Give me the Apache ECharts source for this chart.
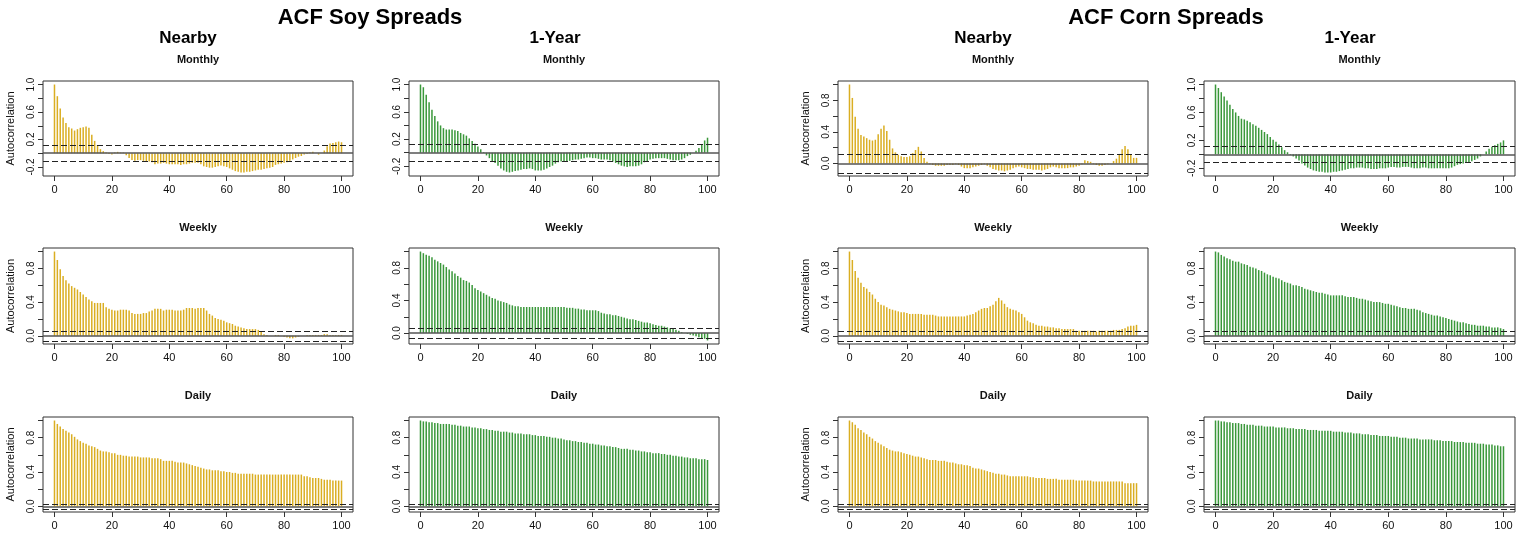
<!DOCTYPE html>
<html><head><meta charset="utf-8">
<script src="https://cdn.jsdelivr.net/npm/echarts@6/dist/echarts.min.js"></script>
<style>html,body{margin:0;padding:0;background:#fff}#c{width:1528px;height:535px}</style>
</head><body><div id="c"></div>
<script>
// ---------- data ----------
const xTickLabels = [0, 20, 40, 60, 80, 100];
const yTicksWide = [-0.2, 0, 0.2, 0.4, 0.6, 0.8, 1.0];
const yLabelsWide = [-0.2, 0.2, 0.6, 1.0];
const yTicksPos = [0, 0.2, 0.4, 0.6, 0.8, 1.0];
const yLabelsPos = [0, 0.4, 0.8];

const confMonthly = 0.115;
const confWeekly = 0.055;
const confDaily = 0.025;

const soyNearbyMonthly = [1.0,0.83,0.65,0.52,0.44,0.38,0.36,0.33,0.35,0.37,
 0.38,0.39,0.37,0.27,0.18,0.12,0.06,0.03,0.01,-0.01,
 -0.02,0.01,0.02,0.01,0.01,-0.03,-0.07,-0.10,-0.11,-0.10,
 -0.10,-0.11,-0.12,-0.12,-0.13,-0.16,-0.15,-0.15,-0.14,-0.15,
 -0.16,-0.16,-0.16,-0.16,-0.17,-0.16,-0.16,-0.15,-0.14,-0.14,
 -0.14,-0.16,-0.19,-0.20,-0.21,-0.21,-0.20,-0.19,-0.18,-0.19,
 -0.20,-0.22,-0.24,-0.26,-0.27,-0.28,-0.28,-0.27,-0.27,-0.26,
 -0.25,-0.24,-0.24,-0.23,-0.22,-0.21,-0.20,-0.17,-0.16,-0.15,
 -0.14,-0.13,-0.11,-0.09,-0.07,-0.05,-0.04,-0.02,-0.01,0.01,
 0.02,0.00,-0.02,0.00,0.04,0.10,0.14,0.15,0.16,0.17,
 0.16];
const soy1YMonthly = [1.0,0.96,0.85,0.74,0.63,0.54,0.46,0.40,0.36,0.34,
 0.34,0.34,0.33,0.32,0.29,0.27,0.25,0.21,0.17,0.13,
 0.09,0.05,0.01,-0.04,-0.08,-0.12,-0.15,-0.19,-0.23,-0.26,
 -0.28,-0.29,-0.28,-0.27,-0.26,-0.25,-0.24,-0.24,-0.23,-0.24,
 -0.26,-0.26,-0.26,-0.25,-0.23,-0.21,-0.19,-0.16,-0.14,-0.13,
 -0.12,-0.12,-0.12,-0.11,-0.10,-0.10,-0.09,-0.08,-0.07,-0.07,
 -0.08,-0.08,-0.09,-0.10,-0.10,-0.10,-0.11,-0.13,-0.15,-0.17,
 -0.19,-0.20,-0.21,-0.20,-0.20,-0.20,-0.19,-0.17,-0.14,-0.12,
 -0.10,-0.09,-0.08,-0.08,-0.08,-0.08,-0.09,-0.10,-0.11,-0.11,
 -0.11,-0.10,-0.08,-0.05,-0.03,0.00,0.03,0.07,0.12,0.18,
 0.22];
const cornNearbyMonthly = [1.0,0.83,0.59,0.44,0.36,0.34,0.32,0.30,0.29,0.30,
 0.37,0.44,0.48,0.41,0.30,0.19,0.14,0.11,0.09,0.08,
 0.08,0.09,0.13,0.17,0.21,0.15,0.07,0.02,-0.01,-0.02,
 -0.03,-0.03,-0.03,-0.03,-0.02,-0.02,-0.02,-0.01,-0.02,-0.04,
 -0.06,-0.06,-0.06,-0.05,-0.04,-0.03,-0.02,-0.01,-0.03,-0.05,
 -0.07,-0.08,-0.09,-0.09,-0.10,-0.09,-0.08,-0.06,-0.05,-0.04,
 -0.05,-0.06,-0.07,-0.07,-0.08,-0.08,-0.08,-0.09,-0.08,-0.07,
 -0.05,-0.04,-0.05,-0.06,-0.06,-0.06,-0.06,-0.05,-0.05,-0.04,
 -0.03,-0.01,0.04,0.03,0.02,-0.01,-0.02,-0.03,-0.03,-0.02,
 -0.01,0.00,0.03,0.06,0.12,0.18,0.22,0.18,0.12,0.07,
 0.07];
const corn1YMonthly = [1.0,0.95,0.89,0.83,0.77,0.71,0.65,0.60,0.55,0.51,
 0.50,0.48,0.46,0.43,0.41,0.38,0.35,0.32,0.29,0.25,
 0.21,0.18,0.14,0.10,0.06,0.03,-0.01,-0.03,-0.06,-0.09,
 -0.13,-0.16,-0.19,-0.21,-0.23,-0.24,-0.25,-0.25,-0.26,-0.26,
 -0.26,-0.25,-0.25,-0.24,-0.23,-0.22,-0.21,-0.20,-0.20,-0.19,
 -0.19,-0.19,-0.20,-0.20,-0.21,-0.21,-0.21,-0.20,-0.20,-0.20,
 -0.19,-0.18,-0.18,-0.19,-0.19,-0.18,-0.18,-0.18,-0.19,-0.20,
 -0.20,-0.20,-0.19,-0.19,-0.20,-0.20,-0.20,-0.20,-0.20,-0.20,
 -0.20,-0.20,-0.19,-0.17,-0.15,-0.14,-0.13,-0.12,-0.11,-0.10,
 -0.08,-0.06,-0.03,0.00,0.04,0.08,0.11,0.13,0.15,0.17,
 0.20];
const soyNearbyWeekly = [1.0,0.90,0.79,0.71,0.66,0.62,0.59,0.57,0.55,0.52,
 0.49,0.46,0.43,0.41,0.39,0.39,0.39,0.39,0.34,0.32,
 0.31,0.30,0.30,0.31,0.31,0.31,0.30,0.27,0.26,0.26,
 0.26,0.27,0.27,0.29,0.30,0.32,0.32,0.32,0.30,0.31,
 0.31,0.31,0.30,0.30,0.30,0.31,0.33,0.33,0.33,0.32,
 0.33,0.33,0.33,0.30,0.26,0.24,0.21,0.20,0.19,0.18,
 0.16,0.15,0.14,0.12,0.11,0.10,0.09,0.08,0.08,0.08,
 0.08,0.07,0.05,0.02,0.01,0.00,0.00,0.01,0.01,0.00,
 -0.01,-0.02,-0.03,-0.03,-0.02,-0.01,0.00,0.00,0.01,0.01,
 0.01,0.01,0.01,0.01,0.02,0.02,0.01,0.01,0.01,0.01,
 0.01];
const soy1YWeekly = [1.0,0.98,0.96,0.95,0.93,0.90,0.88,0.86,0.84,0.81,
 0.78,0.76,0.73,0.70,0.68,0.65,0.64,0.62,0.59,0.55,
 0.53,0.51,0.49,0.47,0.45,0.43,0.42,0.40,0.39,0.38,
 0.37,0.35,0.34,0.33,0.33,0.32,0.32,0.32,0.32,0.32,
 0.32,0.32,0.32,0.32,0.32,0.32,0.32,0.32,0.32,0.32,
 0.32,0.31,0.31,0.31,0.30,0.30,0.29,0.29,0.28,0.28,
 0.28,0.28,0.27,0.25,0.24,0.23,0.23,0.22,0.22,0.21,
 0.20,0.19,0.18,0.17,0.17,0.16,0.15,0.14,0.13,0.13,
 0.12,0.11,0.10,0.09,0.09,0.08,0.07,0.06,0.05,0.04,
 0.03,0.01,0.00,-0.01,-0.02,-0.03,-0.04,-0.05,-0.06,-0.07,
 -0.09];
const cornNearbyWeekly = [1.0,0.90,0.77,0.69,0.63,0.58,0.56,0.52,0.49,0.44,
 0.40,0.37,0.36,0.34,0.32,0.31,0.30,0.29,0.28,0.28,
 0.27,0.26,0.26,0.26,0.26,0.26,0.25,0.25,0.25,0.25,
 0.24,0.23,0.23,0.23,0.23,0.23,0.23,0.23,0.23,0.23,
 0.23,0.24,0.25,0.26,0.28,0.30,0.32,0.33,0.33,0.35,
 0.37,0.41,0.45,0.42,0.38,0.34,0.32,0.31,0.30,0.28,
 0.26,0.22,0.18,0.16,0.15,0.13,0.12,0.12,0.11,0.11,
 0.10,0.10,0.09,0.09,0.08,0.08,0.08,0.08,0.08,0.06,
 0.06,0.06,0.06,0.06,0.06,0.06,0.05,0.06,0.06,0.06,
 0.06,0.06,0.07,0.07,0.07,0.08,0.09,0.11,0.12,0.12,
 0.13];
const corn1YWeekly = [1.0,0.99,0.96,0.94,0.92,0.91,0.89,0.88,0.88,0.86,
 0.85,0.84,0.82,0.81,0.80,0.78,0.77,0.75,0.73,0.72,
 0.70,0.69,0.68,0.66,0.64,0.63,0.62,0.60,0.60,0.59,
 0.58,0.56,0.55,0.54,0.53,0.52,0.51,0.51,0.50,0.49,
 0.48,0.48,0.48,0.48,0.48,0.47,0.46,0.46,0.46,0.45,
 0.44,0.44,0.43,0.42,0.41,0.40,0.40,0.40,0.39,0.38,
 0.38,0.37,0.36,0.35,0.34,0.33,0.33,0.32,0.32,0.32,
 0.31,0.30,0.28,0.27,0.26,0.25,0.24,0.24,0.23,0.22,
 0.21,0.20,0.19,0.18,0.17,0.16,0.16,0.15,0.14,0.13,
 0.13,0.12,0.12,0.12,0.11,0.11,0.10,0.10,0.10,0.09,
 0.08];
const soyNearbyDaily = [1.0,0.96,0.93,0.90,0.88,0.86,0.84,0.81,0.78,0.76,
 0.74,0.73,0.71,0.70,0.69,0.67,0.65,0.64,0.64,0.63,
 0.62,0.62,0.60,0.60,0.59,0.59,0.58,0.58,0.58,0.58,
 0.57,0.57,0.57,0.57,0.56,0.56,0.56,0.55,0.53,0.53,
 0.53,0.53,0.52,0.51,0.51,0.51,0.50,0.49,0.48,0.47,
 0.46,0.45,0.44,0.43,0.43,0.42,0.42,0.42,0.41,0.41,
 0.40,0.40,0.39,0.39,0.38,0.38,0.38,0.38,0.38,0.38,
 0.37,0.37,0.37,0.37,0.37,0.37,0.37,0.37,0.37,0.37,
 0.37,0.37,0.37,0.37,0.37,0.37,0.37,0.35,0.35,0.34,
 0.33,0.33,0.33,0.32,0.31,0.31,0.31,0.30,0.30,0.30,
 0.30];
const soy1YDaily = [1.0,0.99,0.99,0.98,0.98,0.97,0.97,0.96,0.96,0.96,
 0.96,0.95,0.95,0.94,0.94,0.93,0.93,0.93,0.92,0.92,
 0.91,0.91,0.90,0.90,0.89,0.89,0.88,0.88,0.87,0.87,
 0.87,0.86,0.86,0.85,0.85,0.85,0.84,0.84,0.84,0.83,
 0.83,0.82,0.82,0.82,0.81,0.81,0.80,0.80,0.79,0.79,
 0.78,0.77,0.77,0.76,0.76,0.75,0.75,0.74,0.74,0.73,
 0.73,0.72,0.72,0.71,0.71,0.70,0.70,0.69,0.69,0.68,
 0.67,0.67,0.67,0.66,0.66,0.65,0.65,0.64,0.64,0.63,
 0.63,0.62,0.62,0.62,0.61,0.61,0.60,0.60,0.59,0.59,
 0.58,0.58,0.57,0.57,0.56,0.56,0.56,0.55,0.55,0.55,
 0.54];
const cornNearbyDaily = [1.0,0.98,0.95,0.91,0.89,0.86,0.84,0.81,0.79,0.76,
 0.74,0.72,0.70,0.68,0.66,0.65,0.64,0.64,0.63,0.62,
 0.61,0.60,0.59,0.58,0.58,0.57,0.56,0.55,0.54,0.54,
 0.54,0.53,0.53,0.53,0.52,0.51,0.51,0.50,0.49,0.49,
 0.48,0.48,0.47,0.45,0.44,0.44,0.43,0.42,0.41,0.40,
 0.39,0.38,0.38,0.37,0.37,0.36,0.35,0.35,0.35,0.35,
 0.35,0.35,0.35,0.34,0.34,0.33,0.33,0.33,0.33,0.32,
 0.32,0.32,0.32,0.31,0.31,0.31,0.31,0.31,0.31,0.30,
 0.30,0.30,0.30,0.30,0.30,0.29,0.29,0.29,0.29,0.29,
 0.29,0.29,0.29,0.29,0.29,0.29,0.27,0.27,0.27,0.27,
 0.27];
const corn1YDaily = [1.0,1.0,0.99,0.99,0.98,0.98,0.97,0.97,0.97,0.96,
 0.96,0.95,0.95,0.95,0.94,0.94,0.94,0.93,0.93,0.93,
 0.93,0.92,0.92,0.92,0.92,0.91,0.91,0.91,0.90,0.90,
 0.90,0.90,0.89,0.89,0.89,0.89,0.88,0.88,0.88,0.88,
 0.88,0.87,0.87,0.87,0.87,0.86,0.86,0.86,0.85,0.85,
 0.85,0.84,0.84,0.84,0.83,0.83,0.83,0.82,0.82,0.82,
 0.82,0.81,0.81,0.81,0.80,0.80,0.80,0.79,0.79,0.79,
 0.79,0.78,0.78,0.78,0.78,0.78,0.77,0.77,0.77,0.76,
 0.76,0.76,0.76,0.75,0.75,0.75,0.75,0.74,0.74,0.74,
 0.74,0.73,0.73,0.73,0.72,0.72,0.72,0.71,0.71,0.70,
 0.70];

// ---------- layout ----------
const FONT = "'Liberation Sans', Arial, sans-serif";
const GOLD = '#DAAE22';
const GREEN = '#3A983A';
const colLeft = [43, 409, 838, 1204];
const colWidth = [310, 310, 310, 311];
const rowTop = [81, 248, 417];
const rowHeight = [95, 96, 95];
const rowTitleY = [60, 228, 396];
const rowNames = ['Monthly', 'Weekly', 'Daily'];

const panels = [
  {data: soyNearbyMonthly, row: 0, col: 0, color: GOLD, clim: confMonthly, wide: true},
  {data: soy1YMonthly, row: 0, col: 1, color: GREEN, clim: confMonthly, wide: true},
  {data: cornNearbyMonthly, row: 0, col: 2, color: GOLD, clim: confMonthly, wide: false},
  {data: corn1YMonthly, row: 0, col: 3, color: GREEN, clim: confMonthly, wide: true},
  {data: soyNearbyWeekly, row: 1, col: 0, color: GOLD, clim: confWeekly, wide: false},
  {data: soy1YWeekly, row: 1, col: 1, color: GREEN, clim: confWeekly, wide: false},
  {data: cornNearbyWeekly, row: 1, col: 2, color: GOLD, clim: confWeekly, wide: false},
  {data: corn1YWeekly, row: 1, col: 3, color: GREEN, clim: confWeekly, wide: false},
  {data: soyNearbyDaily, row: 2, col: 0, color: GOLD, clim: confDaily, wide: false},
  {data: soy1YDaily, row: 2, col: 1, color: GREEN, clim: confDaily, wide: false},
  {data: cornNearbyDaily, row: 2, col: 2, color: GOLD, clim: confDaily, wide: false},
  {data: corn1YDaily, row: 2, col: 3, color: GREEN, clim: confDaily, wide: false}
];

const grids = [], xAxes = [], yAxes = [], series = [];
const titles = [
  {text: 'ACF Soy Spreads', left: 370, top: 18, fs: 22},
  {text: 'ACF Corn Spreads', left: 1166, top: 18, fs: 22},
  {text: 'Nearby', left: 188, top: 38, fs: 17},
  {text: '1-Year', left: 555, top: 38, fs: 17},
  {text: 'Nearby', left: 983, top: 38, fs: 17},
  {text: '1-Year', left: 1350, top: 38, fs: 17}
].map(t => ({text: t.text, left: t.left, top: t.top, padding: 0,
  textAlign: 'center', textVerticalAlign: 'middle',
  textStyle: {fontSize: t.fs, fontWeight: 'bold', color: '#000', fontFamily: FONT}}));

panels.forEach((p, i) => {
  const left = colLeft[p.col], top = rowTop[p.row];
  const w = colWidth[p.col], h = rowHeight[p.row];
  grids.push({left: left, top: top, width: w, height: h, show: true,
    borderColor: '#333', borderWidth: 1, backgroundColor: 'transparent', containLabel: false});
  titles.push({text: rowNames[p.row], left: left + w / 2, top: rowTitleY[p.row], padding: 0,
    textAlign: 'center', textVerticalAlign: 'middle',
    textStyle: {fontSize: 11, fontWeight: 'bold', color: '#111', fontFamily: FONT}});
  const m = Math.min(Math.min.apply(null, p.data), -p.clim);
  const span = 1 - m;
  const yMin = m - 0.04 * span, yMax = 1 + 0.04 * span;
  xAxes.push({type: 'value', gridIndex: i, min: -4, max: 104, position: 'bottom',
    splitLine: {show: false}, axisLine: {show: false, onZero: false},
    axisTick: {show: true, customValues: xTickLabels, length: 5, lineStyle: {color: '#333'}},
    axisLabel: {customValues: xTickLabels, fontSize: 11, color: '#111', margin: 8, fontFamily: FONT}});
  const isNearby = (p.col === 0 || p.col === 2);
  yAxes.push({type: 'value', gridIndex: i, min: yMin, max: yMax, position: 'left',
    splitLine: {show: false}, axisLine: {show: false, onZero: false},
    axisTick: {show: true, customValues: p.wide ? yTicksWide : yTicksPos, length: 5, lineStyle: {color: '#333'}},
    axisLabel: {customValues: p.wide ? yLabelsWide : yLabelsPos, rotate: 90, fontSize: 10,
      color: '#111', margin: 7, fontFamily: FONT, formatter: v => Number(v).toFixed(1)},
    name: isNearby ? 'Autocorrelation' : '', nameLocation: 'middle', nameGap: 27,
    nameTextStyle: {fontSize: 11, color: '#111', fontFamily: FONT}});
  series.push({type: 'bar', xAxisIndex: i, yAxisIndex: i, barWidth: 1.5,
    data: p.data.map((v, k) => [k, v]),
    itemStyle: {color: p.color}, silent: true, animation: false,
    markLine: {silent: true, symbol: ['none', 'none'], label: {show: false}, animation: false,
      data: [
        {yAxis: 0, lineStyle: {type: 'solid', color: '#555', width: 1.5}},
        {yAxis: p.clim, lineStyle: {type: [6, 3], color: '#222', width: 1}},
        {yAxis: -p.clim, lineStyle: {type: [6, 3], color: '#222', width: 1}}
      ]}});
});

const chart = echarts.init(document.getElementById('c'));
chart.setOption({
  backgroundColor: '#fff',
  animation: false,
  textStyle: {fontFamily: FONT},
  title: titles,
  grid: grids,
  xAxis: xAxes,
  yAxis: yAxes,
  series: series
});
</script>
</body></html>
